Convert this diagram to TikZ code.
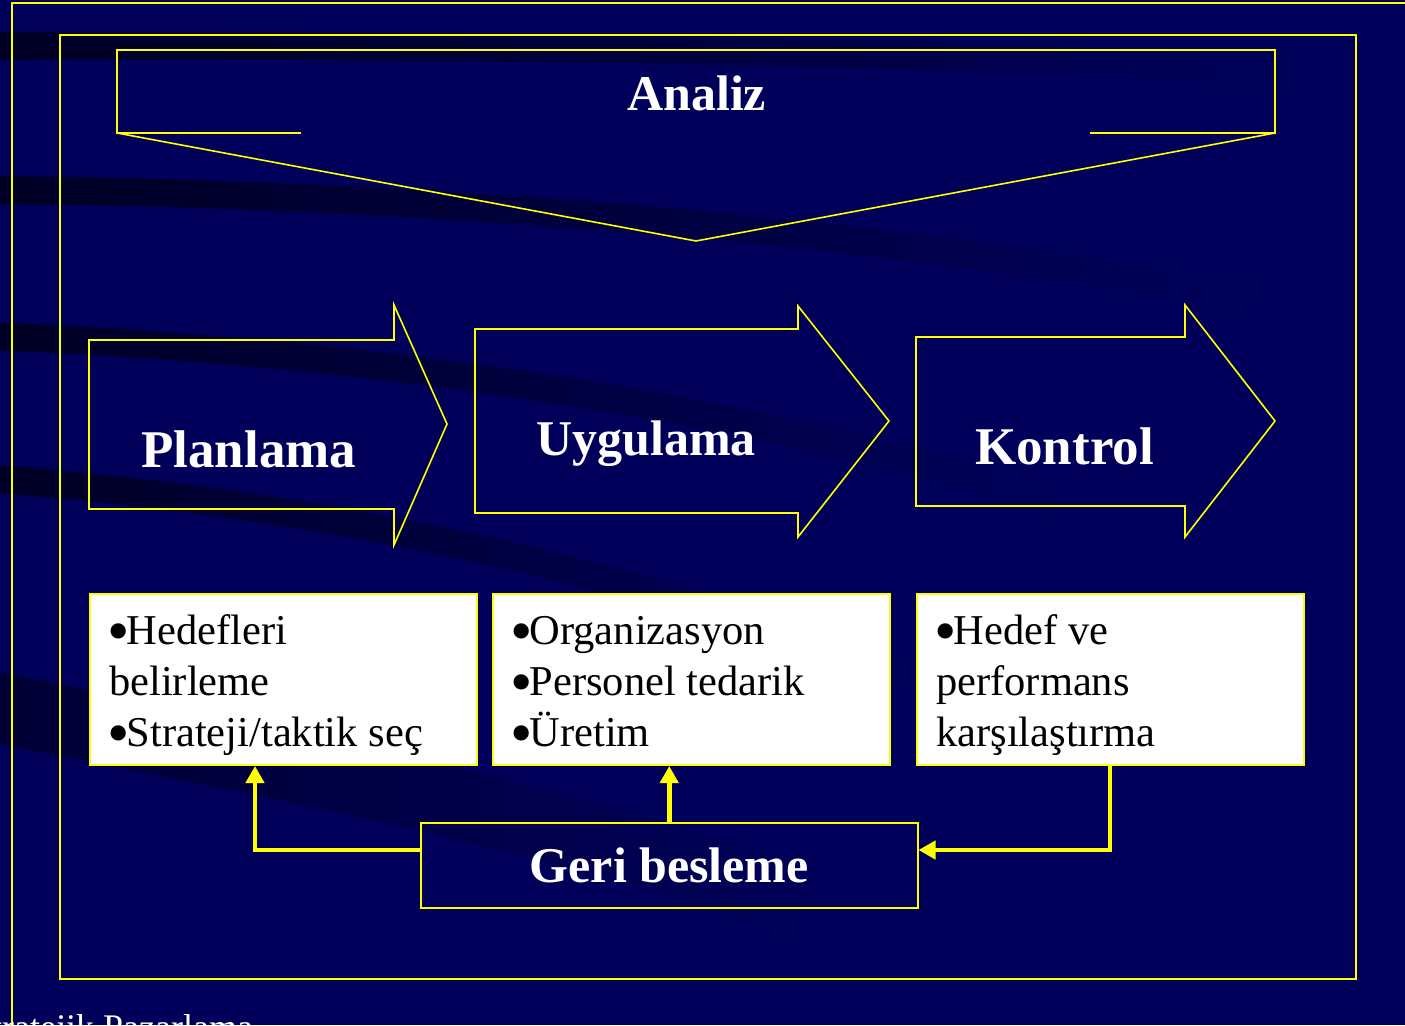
\documentclass[tikz,border=0pt]{standalone}
\usepackage{fontspec}
\usepackage{graphicx}
\setmainfont{Liberation Serif}
\usetikzlibrary{arrows.meta,fadings}
\definecolor{navy}{RGB}{0,0,90}
\definecolor{yel}{RGB}{255,255,0}
\newcommand\bigbul{\makebox[0.41em][l]{\hspace{-0.04em}\raisebox{-0.19em}{\scalebox{1.5}{•}}}}
\begin{document}
\begin{tikzpicture}[x=1pt,y=-1pt,
  yline/.style={draw=yel,line width=1.6pt,line join=miter},
  whitebox/.style={draw=yel,line width=2pt,fill=white,anchor=north west,inner sep=0pt},
  titletxt/.style={text=white,font=\bfseries\fontsize{50}{60}\selectfont,anchor=base west,inner sep=0pt},
  bigtitle/.style={titletxt,font=\bfseries\fontsize{53}{60}\selectfont},
  boxtxt/.style={text=black,font=\fontsize{42.5}{51}\selectfont,anchor=base west,inner sep=0pt},
  fb/.style={draw=yel,line width=4.5pt,-{Triangle[length=17pt,width=18pt]}},
  band/.style={line width=28pt,draw=black,opacity=0.6,path fading=east}
]
\useasboundingbox (0,0) rectangle (1405,1025);
\clip (0,0) rectangle (1405,1025);
\fill[navy] (0,0) rectangle (1405,1025);
% background streaks
\draw[band] (-20,46) .. controls (400,44) and (900,50) .. (1300,70);
\draw[band] (-20,190) .. controls (400,192) and (900,230) .. (1250,300);
\draw[band] (-20,336) .. controls (400,350) and (800,420) .. (1050,500);
\draw[band] (-20,478) .. controls (300,500) and (650,570) .. (900,680);
\draw[band,line width=70pt,opacity=0.45] (-40,700) .. controls (250,760) and (500,800) .. (800,900);
% frames
\draw[yel,line width=2pt] (12,1100) -- (12,3) -- (1500,3);
\draw[yline] (60,35) rectangle (1356,979);
% Analiz
\draw[yline,line width=2pt] (301,133) -- (117,133) -- (117,50) -- (1275,50) -- (1275,133) -- (1090,133);
\draw[yline] (117,133) -- (696,241) -- (1275,133);
\node[titletxt] (analiz) at (627,110) {Analiz};
% process arrows
\draw[yline] (89,340) -- (394,340) -- (394,305) -- (447,424) -- (394,545) -- (394,509) -- (89,509) -- cycle;
\draw[yline] (475,329) -- (798,329) -- (798,306) -- (889,421) -- (798,537) -- (798,513) -- (475,513) -- cycle;
\draw[yline] (916,337) -- (1185,337) -- (1185,305) -- (1275,421) -- (1185,537) -- (1185,506) -- (916,506) -- cycle;
\node[bigtitle] (planlama) at (141,467) {Planlama};
\node[titletxt] (uygulama) at (536,455) {Uygulama};
\node[bigtitle] (kontrol) at (975,464) {Kontrol};
% white boxes
\node[whitebox,minimum width=387pt,minimum height=171pt] (plan) at (89,593) {};
\node[whitebox,minimum width=397pt,minimum height=171pt] (impl) at (492,593) {};
\node[whitebox,minimum width=387pt,minimum height=171pt] (ctrl) at (916,593) {};
\node[boxtxt] (p1) at (109,644) {\bigbul Hedefleri};
\node[boxtxt] (p2) at (109,695) {belirleme};
\node[boxtxt] (p3) at (109,746) {\bigbul Strateji/taktik seç};
\node[boxtxt] (i1) at (512,644) {\bigbul Organizasyon};
\node[boxtxt] (i2) at (512,695) {\bigbul Personel tedarik};
\node[boxtxt] (i3) at (512,746) {\bigbul Üretim};
\node[boxtxt] (c1) at (936,644) {\bigbul Hedef ve};
\node[boxtxt] (c2) at (936,695) {performans};
\node[boxtxt] (c3) at (936,746) {karşılaştırma};
% feedback
\node[draw=yel,line width=1.5pt,minimum width=497pt,minimum height=85pt,anchor=north west,inner sep=0pt,
      text=white,font=\bfseries\fontsize{50}{60}\selectfont] (geri) at (420,822) {Geri besleme};
\draw[fb] (geri.west |- 0,850) -| (plan.south -| 255,0);
\draw[fb] (geri.north) -- (impl.south -| geri.north);
\draw[fb] (ctrl.south -| 1110,0) |- (geri.east |- 0,850);
% footer
\node[text=white,font=\fontsize{36}{40}\selectfont,anchor=base west,inner sep=0pt] (footer) at (-28,1039) {Stratejik Pazarlama};
\end{tikzpicture}
\end{document}
